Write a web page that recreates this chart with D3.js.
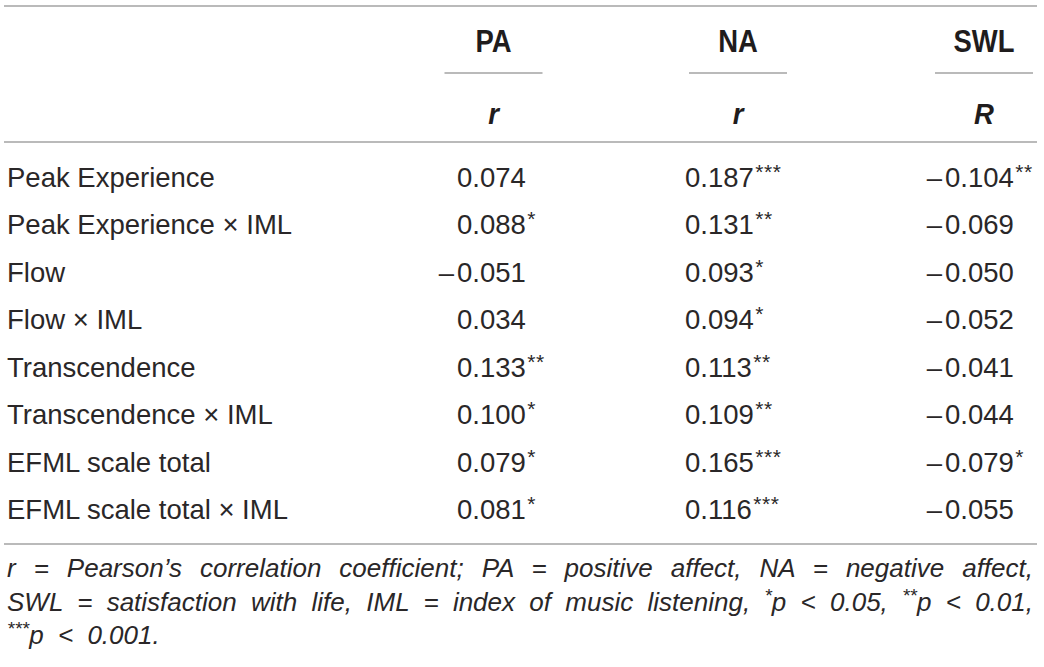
<!DOCTYPE html>
<html>
<head>
<meta charset="utf-8">
<script src="https://cdn.jsdelivr.net/npm/d3@7"></script>
<style>
  html, body { margin: 0; padding: 0; background: #fff; }
  svg { display: block; }
</style>
</head>
<body>
<div id="table_plot"></div>
<script>
// table content
const rowLabels = [
    "Peak Experience",
    "Peak Experience \u00d7 IML",
    "Flow",
    "Flow \u00d7 IML",
    "Transcendence",
    "Transcendence \u00d7 IML",
    "EFML scale total",
    "EFML scale total \u00d7 IML"
];
const columnHeaders = ["PA", "NA", "SWL"];
const columnSubHeaders = ["r", "r", "R"];

const paValues = [0.074, 0.088, -0.051, 0.034, 0.133, 0.100, 0.079, 0.081];
const paStars = ["", "*", "", "", "**", "*", "*", "*"];
const naValues = [0.187, 0.131, 0.093, 0.094, 0.113, 0.109, 0.165, 0.116];
const naStars = ["***", "**", "*", "*", "**", "**", "***", "***"];
const swlValues = [-0.104, -0.069, -0.050, -0.052, -0.041, -0.044, -0.079, -0.055];
const swlStars = ["**", "", "", "", "", "", "*", ""];

const footnoteLines = [
    "r = Pearson\u2019s correlation coefficient; PA = positive affect, NA = negative affect,",
    "SWL = satisfaction with life, IML = index of music listening, *p < 0.05, **p < 0.01,",
    "***p < 0.001."
];

const width = 1044;
const height = 667;
const textColor = "#2a2728";
const ruleColor = "#a3a3a3";
const bodyFont = "'Liberation Sans', Arial, Helvetica, sans-serif";
const headFont = "'Liberation Sans', Arial, sans-serif";

const svg = d3.select("#table_plot")
    .append("svg")
    .attr("width", width)
    .attr("height", height)
    .attr("viewBox", [0, 0, width, height]);

// column centres and where the number part of each value starts
const colCenters = [493.5, 738, 984];
const numStart = [457, 685, 945];

const rowY = d3.scalePoint()
    .domain(rowLabels)
    .range([187, 519]);

function rule(y, x1, x2) {
    svg.append("line")
        .attr("x1", x1).attr("x2", x2)
        .attr("y1", y).attr("y2", y)
        .attr("stroke", ruleColor)
        .attr("stroke-width", 1.6);
}

rule(6, 4, 1037);
rule(142, 4, 1037);
rule(544, 4, 1037);

// header (condensed look by squeezing horizontally)
svg.append("g")
    .selectAll("text")
    .data(columnHeaders)
    .join("text")
        .attr("transform", (d, i) => `translate(${colCenters[i]},52) scale(0.9,1)`)
        .attr("text-anchor", "middle")
        .attr("font-family", headFont)
        .attr("font-weight", "bold")
        .attr("font-size", "30.5px")
        .attr("fill", "#1f1c1d")
        .text(d => d);

svg.append("g")
    .selectAll("line")
    .data(columnHeaders)
    .join("line")
        .attr("x1", (d, i) => colCenters[i] - 49)
        .attr("x2", (d, i) => colCenters[i] + 49)
        .attr("y1", 73).attr("y2", 73)
        .attr("stroke", ruleColor)
        .attr("stroke-width", 1.6);

svg.append("g")
    .selectAll("text")
    .data(columnSubHeaders)
    .join("text")
        .attr("transform", (d, i) => `translate(${colCenters[i]},124) scale(0.92,1)`)
        .attr("text-anchor", "middle")
        .attr("font-family", headFont)
        .attr("font-weight", "bold")
        .attr("font-style", "italic")
        .attr("font-size", "30px")
        .attr("fill", "#1f1c1d")
        .text(d => d);

// row labels
svg.append("g")
    .selectAll("text")
    .data(rowLabels)
    .join("text")
        .attr("x", 7)
        .attr("y", d => rowY(d))
        .attr("font-family", bodyFont)
        .attr("font-size", "27.5px")
        .attr("fill", textColor)
        .text(d => d);

// value columns
const columns = [
    {values: paValues, stars: paStars},
    {values: naValues, stars: naStars},
    {values: swlValues, stars: swlStars}
];

columns.forEach((col, ci) => {
    const g = svg.append("g")
        .attr("font-family", bodyFont)
        .attr("font-size", "27.5px")
        .attr("fill", textColor);

    const cells = col.values.map((v, i) => ({v: v, s: col.stars[i], label: rowLabels[i]}));

    const t = g.selectAll("text.num")
        .data(cells)
        .join("text")
            .attr("class", "num")
            .attr("x", numStart[ci])
            .attr("y", d => rowY(d.label));
    t.append("tspan")
        .text(d => Math.abs(d.v).toFixed(3));
    t.append("tspan")
        .attr("font-size", "21px")
        .attr("letter-spacing", "0.5px")
        .attr("dy", -8)
        .attr("dx", 1.5)
        .text(d => d.s);

    g.selectAll("text.minus")
        .data(cells.filter(d => d.v < 0))
        .join("text")
            .attr("class", "minus")
            .attr("x", numStart[ci] - 3)
            .attr("y", d => rowY(d.label))
            .attr("text-anchor", "end")
            .text("\u2013");
});

// footnote, stars raised, first two lines justified with word spacing
const foot = svg.append("g")
    .attr("font-family", bodyFont)
    .attr("font-style", "italic")
    .attr("font-size", "26px")
    .attr("fill", textColor);

let lastSpacing = 0;
foot.selectAll("text")
    .data(footnoteLines)
    .join("text")
        .attr("x", 7)
        .attr("y", (d, i) => 577 + i * 33.5)
        .each(function(line, li) {
            const el = d3.select(this);
            const parts = line.split(/(\*+)/).filter(p => p.length);
            let raised = false;
            parts.forEach(p => {
                const isStar = /^\*+$/.test(p);
                const ts = el.append("tspan").text(p);
                if (isStar) {
                    ts.attr("font-size", "19px").attr("dy", -9);
                    raised = true;
                } else if (raised) {
                    ts.attr("dy", 9);
                    raised = false;
                }
            });
            if (li < 2) {
                const natural = this.getComputedTextLength();
                const spaces = (line.match(/ /g) || []).length;
                lastSpacing = (1026 - natural) / spaces;
            }
            el.attr("word-spacing", lastSpacing + "px");
        });
</script>
</body>
</html>
